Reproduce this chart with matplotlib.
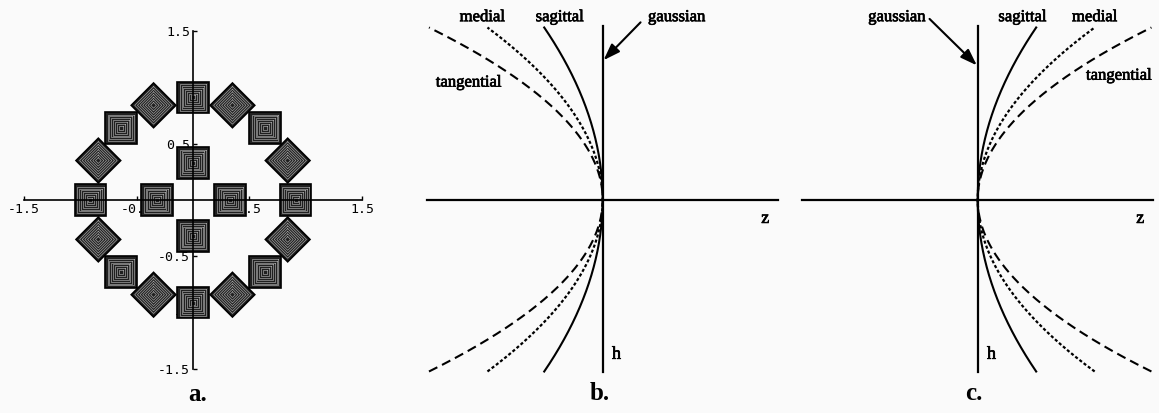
import numpy as np
import matplotlib.pyplot as plt
import matplotlib.patheffects as pe

W, H = 1159, 413
BG = '#fafafa'

# --- panel a: spot diagram centres (x, y) and square orientation (deg) ---
spot_x = [0.91, 0.84, 0.64, 0.35, 0.00, -0.35, -0.64, -0.84,
          -0.91, -0.84, -0.64, -0.35, 0.00, 0.35, 0.64, 0.84,
          0.33, 0.00, -0.32, 0.00]
spot_y = [0.00, 0.35, 0.64, 0.84, 0.91, 0.84, 0.64, 0.35,
          0.00, -0.35, -0.64, -0.84, -0.91, -0.84, -0.64, -0.35,
          0.00, 0.33, 0.00, -0.32]
spot_rot = [0, 45, 0, 45, 0, 45, 0, 45,
            0, 45, 0, 45, 0, 45, 0, 45,
            0, 0, 0, 0]
spot_half = 0.14
a_ticks = [-1.5, -1, -0.5, 0.5, 1, 1.5]
a_ticklabels = ['-1.5', '-1', '-0.5', '0.5', '1', '1.5']

# --- panels b, c: field curves z = z_edge * h^2 (z_edge read at h = +-1) ---
curve_names = ['tangential', 'medial', 'sagittal']
z_edge_b = [-1.01, -0.67, -0.34]
z_edge_c = [1.01, 0.68, 0.34]

# label anchors (z, h)
labels_b = {'medial': (-0.70, 1.06), 'sagittal': (-0.25, 1.06),
            'gaussian': (0.43, 1.06), 'tangential': (-0.78, 0.68)}
labels_c = {'gaussian': (-0.47, 1.06), 'sagittal': (0.26, 1.06),
            'medial': (0.68, 1.06), 'tangential': (0.82, 0.72)}
arrow_b = ((0.22, 1.03), (0.005, 0.81))
arrow_c = ((-0.28, 1.05), (-0.005, 0.78))

line_styles = {
    'tangential': dict(lw=1.5, dashes=(4.5, 2.5)),
    'medial': dict(lw=1.6, dashes=(1.4, 1.0)),
    'sagittal': dict(lw=1.5, ls='-'),
}

SERIF = 'Liberation Serif'
thick = [pe.withStroke(linewidth=0.5, foreground='k')]

fig = plt.figure(figsize=(W / 100, H / 100), dpi=100, facecolor=BG)


def add_panel(x0, x1, ox, oy, scale):
    """Axes spanning pixel columns x0..x1 with origin at pixel (ox, oy)."""
    ax = fig.add_axes([x0 / W, 0, (x1 - x0) / W, 1])
    ax.set_xlim((x0 - ox) / scale, (x1 - ox) / scale)
    ax.set_ylim((oy - H) / scale, oy / scale)
    ax.set_facecolor('none')
    return ax


# ---------------- panel a ----------------
ax = add_panel(0, 400, 193, 200, 112.7)
for s in ['top', 'right']:
    ax.spines[s].set_visible(False)
for s in ['left', 'bottom']:
    ax.spines[s].set_position(('data', 0))
    ax.spines[s].set_bounds(-1.5, 1.5)
    ax.spines[s].set_linewidth(1.2)
    ax.spines[s].set_zorder(5)
ax.set_xticks(a_ticks)
ax.set_xticklabels(a_ticklabels)
ax.set_yticks(a_ticks)
ax.set_yticklabels(a_ticklabels)
ax.tick_params(direction='in', length=3, width=1, labelsize=9.5, pad=2)
for lab in ax.get_xticklabels() + ax.get_yticklabels():
    lab.set_family('DejaVu Sans Mono')

# dark spot with thin grey contour rings inside
rings = np.linspace(0.118, 0.018, 7)
corner = np.deg2rad(45 + np.array([0, 90, 180, 270, 360]))
for cx, cy, rot in zip(spot_x, spot_y, spot_rot):
    t = corner + np.deg2rad(rot)
    ux, uy = np.sqrt(2) * np.cos(t), np.sqrt(2) * np.sin(t)
    ax.fill(cx + spot_half * ux, cy + spot_half * uy, color='#202020',
            ec='k', lw=1.2, zorder=3)
    for r in rings:
        ax.plot(cx + r * ux, cy + r * uy, color='#a0a0a0', lw=0.5, zorder=3)

ax.text(0.04, -1.73, 'a.', family=SERIF, weight='bold', fontsize=18,
        ha='center', va='center')


# ---------------- panels b and c ----------------
def curve_panel(ax, z_edge, labels, arrow, letter):
    ax.axis('off')
    ax.plot([-1.02, 1.02], [0, 0], color='k', lw=1.6)
    ax.plot([0, 0], [-1.0, 1.01], color='k', lw=1.6)
    h = np.linspace(-1, 1, 301)
    for name, ze in zip(curve_names, z_edge):
        ax.plot(ze * h ** 2, h, color='k', **line_styles[name])
    for name, (zx, hy) in labels.items():
        ax.text(zx, hy, name, family=SERIF, fontsize=12, ha='center',
                va='center', path_effects=thick)
    ax.annotate('', xy=arrow[1], xytext=arrow[0],
                arrowprops=dict(arrowstyle='-|>,head_length=1.0,head_width=0.35',
                                lw=1.5, color='k', shrinkA=0, shrinkB=0))
    ax.text(0.945, -0.11, 'z', family=SERIF, fontsize=13, ha='center',
            va='center', path_effects=thick)
    ax.text(0.08, -0.90, 'h', family=SERIF, fontsize=13, ha='center',
            va='center', path_effects=thick)
    ax.text(-0.02, -1.125, letter, family=SERIF, weight='bold', fontsize=18,
            ha='center', va='center')


ax_b = add_panel(410, 790, 602.7, 199.5, 172)
curve_panel(ax_b, z_edge_b, labels_b, arrow_b, 'b.')

ax_c = add_panel(790, 1159, 977.7, 199.5, 172)
curve_panel(ax_c, z_edge_c, labels_c, arrow_c, 'c.')

fig.savefig('out.png', dpi=100, facecolor=BG)
